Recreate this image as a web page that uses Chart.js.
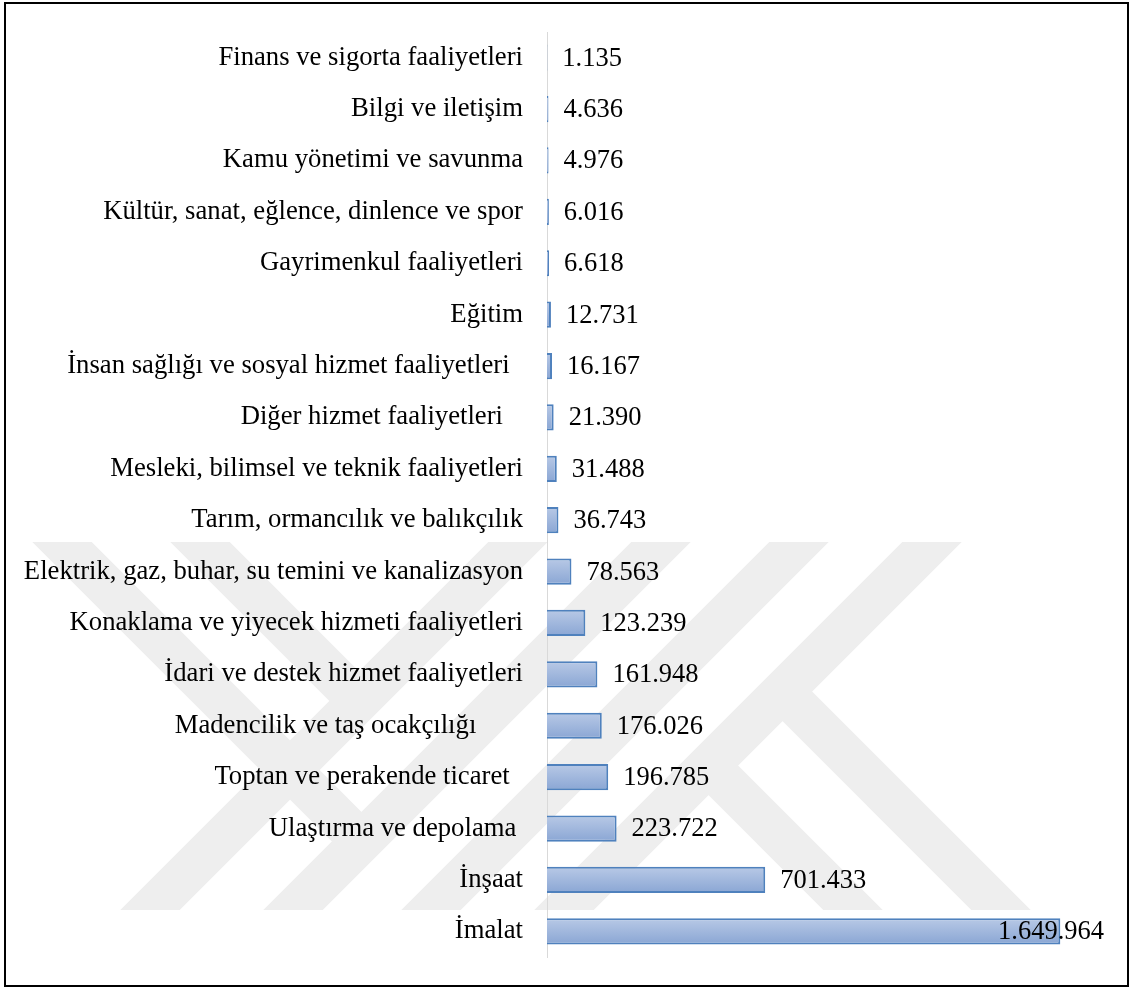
<!DOCTYPE html>
<html lang="tr">
<head>
<meta charset="utf-8">
<title>Sektörlere göre dağılım</title>
<script src="https://cdn.jsdelivr.net/npm/chart.js@4.4.1/dist/chart.umd.min.js"></script>
<style>
  html, body { margin: 0; padding: 0; background: #fff; }
  #wrap { position: relative; width: 1132px; height: 990px; }
  #chart { position: absolute; left: 0; top: 0; }
  #frame {
    position: absolute; left: 4px; top: 2px;
    width: 1121px; height: 981px;
    border: 2px solid #000; pointer-events: none;
  }
</style>
</head>
<body>
<div id="wrap">
  <canvas id="chart" width="1132" height="990"></canvas>
  <div id="frame"></div>
</div>
<script>
// Sektör adları (sondaki boşluklar etiketi sola kaydırıyor)
const sectors = [
  'Finans ve sigorta faaliyetleri',
  'Bilgi ve iletişim',
  'Kamu yönetimi ve savunma',
  'Kültür, sanat, eğlence, dinlence ve spor',
  'Gayrimenkul faaliyetleri',
  'Eğitim',
  'İnsan sağlığı ve sosyal hizmet faaliyetleri  ',
  'Diğer hizmet faaliyetleri   ',
  'Mesleki, bilimsel ve teknik faaliyetleri',
  'Tarım, ormancılık ve balıkçılık',
  'Elektrik, gaz, buhar, su temini ve kanalizasyon',
  'Konaklama ve yiyecek hizmeti faaliyetleri',
  'İdari ve destek hizmet faaliyetleri',
  'Madencilik ve taş ocakçılığı       ',
  'Toptan ve perakende ticaret  ',
  'Ulaştırma ve depolama ',
  'İnşaat',
  'İmalat'
];

// Sektör bazında değerler
const values = [
  1135, 4636, 4976, 6016, 6618, 12731, 16167, 21390, 31488,
  36743, 78563, 123239, 161948, 176026, 196785, 223722, 701433, 1649964
];

const xMax = 1800000;
const fontFamily = '"Liberation Serif", "Times New Roman", serif';

// binlik ayırıcı nokta
function formatTr(n) {
  return String(n).replace(/\B(?=(\d{3})+(?!\d))/g, '.');
}

// çubuk dolgusu: yukarıdan aşağı açık maviden koyuya
function barFill(context) {
  const chart = context.chart;
  const yScale = chart.scales.y;
  if (!chart.chartArea || !yScale) return '#a3bade';
  const centre = yScale.getPixelForValue(context.dataIndex);
  const half = (yScale.height / sectors.length) * 0.51 / 2;
  const g = chart.ctx.createLinearGradient(0, centre - half, 0, centre + half);
  g.addColorStop(0, '#b8c9e6');
  g.addColorStop(1, '#8aa6d4');
  return g;
}

// arka plandaki gri filigran şeritleri
const stripes = [
  [548, 512, 120, 940],
  [691, 512, 263, 940],
  [829, 512, 401, 940],
  [962, 512, 534, 940],
  [32, 512, 362, 842],
  [170, 512, 359, 701],
  [782, 691, 1031, 940],
  [708, 765, 883, 940]
];

const watermark = {
  id: 'watermark',
  beforeDraw(chart) {
    const ctx = chart.ctx;
    ctx.save();
    ctx.beginPath();
    ctx.rect(0, 542, chart.width, 368);
    ctx.clip();
    ctx.strokeStyle = '#eeeeee';
    ctx.lineWidth = 42;
    ctx.lineCap = 'butt';
    stripes.forEach(([x1, y1, x2, y2]) => {
      ctx.beginPath();
      ctx.moveTo(x1, y1);
      ctx.lineTo(x2, y2);
      ctx.stroke();
    });
    ctx.restore();
  }
};

// değer etiketleri çubuğun sağında
const valueLabels = {
  id: 'valueLabels',
  afterDatasetsDraw(chart) {
    const ctx = chart.ctx;
    const meta = chart.getDatasetMeta(0);
    const limit = chart.chartArea.right - 3;
    ctx.save();
    ctx.font = '26.5px ' + fontFamily;
    ctx.fillStyle = '#000';
    ctx.textBaseline = 'middle';
    ctx.textAlign = 'left';
    meta.data.forEach((bar, i) => {
      const text = formatTr(values[i]);
      const w = ctx.measureText(text).width;
      const x = Math.min(bar.x + 15, limit - w);
      ctx.fillText(text, x, bar.y + 1);
    });
    ctx.restore();
  }
};

new Chart(document.getElementById('chart'), {
  type: 'bar',
  data: {
    labels: sectors,
    datasets: [{
      data: values,
      backgroundColor: barFill,
      borderColor: '#4f81bd',
      borderWidth: 2,
      barPercentage: 0.51,
      categoryPercentage: 1.0
    }]
  },
  options: {
    indexAxis: 'y',
    responsive: false,
    animation: false,
    devicePixelRatio: 1,
    layout: { padding: { top: 32, bottom: 33, right: 25, left: 0 } },
    plugins: {
      legend: { display: false },
      tooltip: { enabled: false }
    },
    scales: {
      x: { display: false, min: 0, max: xMax },
      y: {
        afterFit: (scale) => {
          scale.width = 547;
          scale.paddingTop = 0;
          scale.paddingBottom = 0;
        },
        grid: { display: false, drawTicks: false },
        border: { display: true, color: '#d9d9d9', width: 1 },
        ticks: {
          autoSkip: false,
          padding: 24,
          color: '#000',
          font: { family: fontFamily, size: 26.7 }
        }
      }
    }
  },
  plugins: [watermark, valueLabels]
});
</script>
</body>
</html>
